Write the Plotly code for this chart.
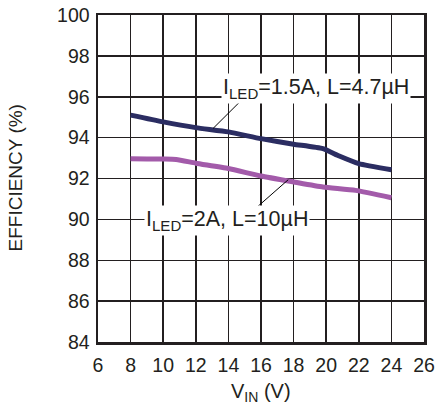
import plotly.graph_objects as go

vin_a = [8, 10, 12, 14, 16, 18, 19.8, 20.8, 22, 24]
eff_a = [95.1, 94.77, 94.49, 94.28, 93.95, 93.68, 93.46, 93.1, 92.73, 92.43]
vin_b = [8, 9, 10, 10.8, 12, 14, 16, 18, 19.8, 21.8, 24]
eff_b = [92.97, 92.96, 92.95, 92.93, 92.75, 92.49, 92.12, 91.83, 91.58, 91.42, 91.06]

xticks = list(range(6, 27, 2))
yticks = list(range(84, 101, 2))

font = "Liberation Sans, Arial, sans-serif"
ink = "#231F20"
fig = go.Figure()
fig.add_trace(go.Scatter(x=vin_a, y=eff_a, mode="lines",
                         line=dict(color="#2B2D62", width=5, shape="spline", smoothing=0.5),
                         showlegend=False))
fig.add_trace(go.Scatter(x=vin_b, y=eff_b, mode="lines",
                         line=dict(color="#A35BAA", width=5, shape="spline", smoothing=0.5),
                         showlegend=False))

fig.add_shape(type="line", x0=14.8, y0=95.83, x1=13.06, y1=94.45,
              line=dict(color="black", width=1))
fig.add_shape(type="line", x0=15.53, y0=90.44, x1=17.67, y1=91.94,
              line=dict(color="black", width=1))

fig.add_annotation(x=19.4, y=96.4, text="I<sub>LED</sub>=1.5A, L=4.7µH", showarrow=False,
                   font=dict(family=font, size=21.5, color=ink), bgcolor="white",
                   borderpad=1)
fig.add_annotation(x=13.9, y=89.95, text="I<sub>LED</sub>=2A, L=10µH", showarrow=False,
                   font=dict(family=font, size=21.5, color=ink), bgcolor="white",
                   borderpad=1)

fig.add_annotation(xref="paper", yref="paper", x=-0.2546, y=0.5, text="EFFICIENCY (%)",
                   textangle=-90, showarrow=False, xanchor="center", yanchor="middle",
                   font=dict(family=font, size=19, color=ink))
fig.add_annotation(xref="paper", yref="paper", x=0.5, y=-0.153, text="V<sub>IN</sub> (V)",
                   showarrow=False, xanchor="center", yanchor="middle",
                   font=dict(family=font, size=20, color=ink))

fig.update_xaxes(range=[6, 26], tickvals=xticks, showgrid=True, gridcolor=ink, gridwidth=1.5,
                 showline=True, linecolor=ink, linewidth=2.5, mirror=True, ticks="",
                 zeroline=False, automargin=False, ticklabelstandoff=4,
                 tickfont=dict(family=font, size=19.5, color=ink))
fig.update_yaxes(range=[84, 100], tickvals=yticks, showgrid=True, gridcolor=ink, gridwidth=1.5,
                 showline=True, linecolor=ink, linewidth=2.5, mirror=True, ticks="",
                 zeroline=False, automargin=False, ticklabelstandoff=2,
                 tickfont=dict(family=font, size=19.5, color=ink))
fig.update_layout(width=435, height=405, margin=dict(l=98, r=11, t=15, b=63),
                  plot_bgcolor="white", paper_bgcolor="white", hovermode=False)
fig.write_html("out.html", config={"displayModeBar": False, "staticPlot": True},
               post_script="document.body.style.margin='0';document.body.style.overflow='hidden';")
